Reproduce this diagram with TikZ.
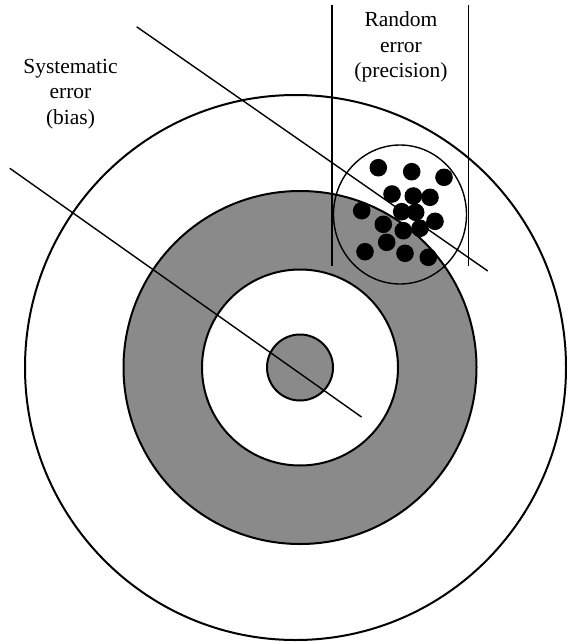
\documentclass[tikz,border=0pt]{standalone}
\usepackage{fontspec}
\setmainfont{Liberation Serif}
\definecolor{ringgray}{RGB}{138,138,138}
\tikzset{
  ring/.style={line width=2pt},
  errline/.style={line width=1.4pt},
  shot/.style={fill=black},
  caption/.style={align=center,font=\fontsize{21.5}{25.5}\selectfont}
}
\begin{document}
\begin{tikzpicture}[x=1pt,y=-1pt]
    \useasboundingbox (0,0) rectangle (567,642);
    \fill[white] (0,0) rectangle (567,642);

    \coordinate (target) at (300,367.5);
    \coordinate (spread) at (400,214.5);

    \draw[ring] (295.5,367.5) ellipse [x radius=270.5, y radius=272.5];
    \draw[ring,fill=ringgray] (target) circle [radius=176.5];
    \draw[ring,fill=white] (target) circle [radius=98];
    \draw[ring,fill=ringgray] (target) circle [radius=33];

    \coordinate (bias-a) at (9.8,168.3);
    \coordinate (bias-b) at (361.5,417);
    \coordinate (prec-a) at (136.7,26.8);
    \coordinate (prec-b) at (487.8,271);
    \draw[errline] (bias-a) -- (bias-b);
    \draw[errline] (prec-a) -- (prec-b);

    \draw[errline] (spread) ellipse [x radius=66.5, y radius=69.5];

    \foreach \x/\y in {378.3/167.7, 411.7/171.7, 444/177.3, 392/194, 413.3/196,
        430/197.3, 361.7/210.7, 401.7/211.7, 415.7/212.3, 435/221.3, 383.3/224.3,
        403.3/230.7, 420/228.3, 386.7/242.3, 365/251.7, 405/253.3, 428.3/257.3}
      \fill[shot] (\x,\y) circle [radius=8.8];

    \coordinate (wall-la) at (332,5.5);
    \coordinate (wall-lb) at (332,266);
    \coordinate (wall-ra) at (468.5,5.5);
    \coordinate (wall-rb) at (468.5,266);
    \draw[line width=1.7pt] (wall-la) -- (wall-lb);
    \draw[line width=1.7pt] (wall-ra) -- (wall-rb);

    \node[caption] (bias) at (70.5,94) {Systematic\\error\\(bias)};
    \node[caption] (precision) at (401,47) {Random\\error\\(precision)};
\end{tikzpicture}
\end{document}
